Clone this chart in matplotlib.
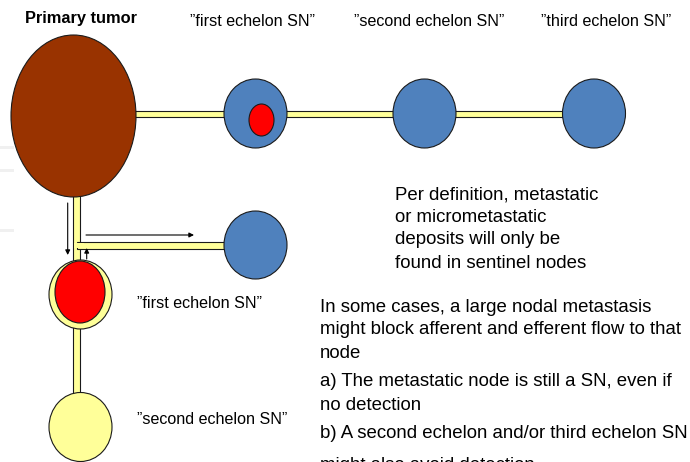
import matplotlib
matplotlib.use("Agg")
import matplotlib.pyplot as plt
from matplotlib.patches import Ellipse, Rectangle

plt.rcParams['font.family'] = ['Liberation Sans', 'DejaVu Sans']

# ---- content ----
header_labels = ['\u201dfirst echelon SN\u201d', '\u201dsecond echelon SN\u201d', '\u201dthird echelon SN\u201d']
title_label = "Primary tumor"
side_labels = ['\u201dfirst echelon SN\u201d', '\u201dsecond echelon SN\u201d']
block1_lines = ["Per definition, metastatic",
                "or micrometastatic",
                "deposits will only be",
                "found in sentinel nodes"]
block2_lines = ["In some cases, a large nodal metastasis",
                "might block afferent and efferent flow to that",
                "node",
                "a) The metastatic node is still a SN, even if",
                "no detection",
                "b) A second echelon and/or third echelon SN",
                "might also avoid detection"]

BROWN = "#993300"
BLUE = "#4F81BD"
RED = "#FF0000"
YELLOW = "#FFFF99"
EDGE = "#1a1a1a"

fig = plt.figure(figsize=(6.9, 4.62), dpi=100)
ax = fig.add_axes([0, 0, 1, 1])
ax.set_xlim(0, 690)
ax.set_ylim(462, 0)
ax.axis('off')

# faint background marks at left edge
for (y0, h) in [(146, 3), (169, 3), (229, 3)]:
    ax.add_patch(Rectangle((0, y0), 14, h, facecolor="#f0f0f0", edgecolor="none", zorder=0))

def channel(x, y, w, h):
    ax.add_patch(Rectangle((x, y), w, h, facecolor=YELLOW, edgecolor=EDGE, lw=0.8, zorder=1))

# horizontal main channel
channel(130, 110.5, 440, 6.5)
# vertical channel
channel(73, 190, 7, 205)
# branch channel
channel(76.5, 242, 152, 6.5)
# junction fill (merge)
ax.add_patch(Rectangle((73.6, 242.6), 10, 5.3, facecolor=YELLOW, edgecolor="none", zorder=1.5))

def node(cx, cy, w, h, fc, z=2):
    ax.add_patch(Ellipse((cx, cy), w, h, facecolor=fc, edgecolor=EDGE, lw=0.8, zorder=z))

# primary tumor
node(73.5, 116, 125, 162, BROWN)
# top row nodes
node(255.5, 113.5, 63, 69, BLUE)
node(261.5, 120, 25, 32, RED, z=3)
node(424.5, 113.5, 63, 69, BLUE)
node(594, 113.5, 63, 69, BLUE)
# branch node
node(255.5, 245, 63, 68, BLUE)
# blocked first echelon node
node(80.5, 294.5, 63, 69, YELLOW)
node(80, 292, 50, 62, RED, z=3)
# second echelon (yellow)
node(80.5, 427, 63, 69, YELLOW)

# arrows
ap = dict(arrowstyle="-|>", color="black", lw=0.8, mutation_scale=7, shrinkA=0, shrinkB=0)
ax.annotate("", xy=(67.7, 255), xytext=(67.7, 203), arrowprops=ap, zorder=4)
ax.annotate("", xy=(194, 235), xytext=(86, 235), arrowprops=ap, zorder=4)
ax.annotate("", xy=(86.7, 248), xytext=(86.7, 259), arrowprops=ap, zorder=4)

# texts
ax.text(81, 19, title_label, fontsize=11.8, fontweight="bold", ha="center", va="center")
for x, lab in zip([252.5, 429, 606], header_labels):
    ax.text(x, 22, lab, fontsize=11.6, ha="center", va="center")
ax.text(137, 304, side_labels[0], fontsize=11.6, ha="left", va="center")
ax.text(137, 419, side_labels[1], fontsize=11.6, ha="left", va="center")

for y, line in zip([195, 217.5, 240, 263], block1_lines):
    ax.text(395, y, line, fontsize=13.4, ha="left", va="center")
for y, line in zip([307, 330, 353, 382, 406, 434, 465], block2_lines):
    ax.text(320, y, line, fontsize=13.4, ha="left", va="center", clip_on=True)

fig.savefig("out.png", dpi=100)
